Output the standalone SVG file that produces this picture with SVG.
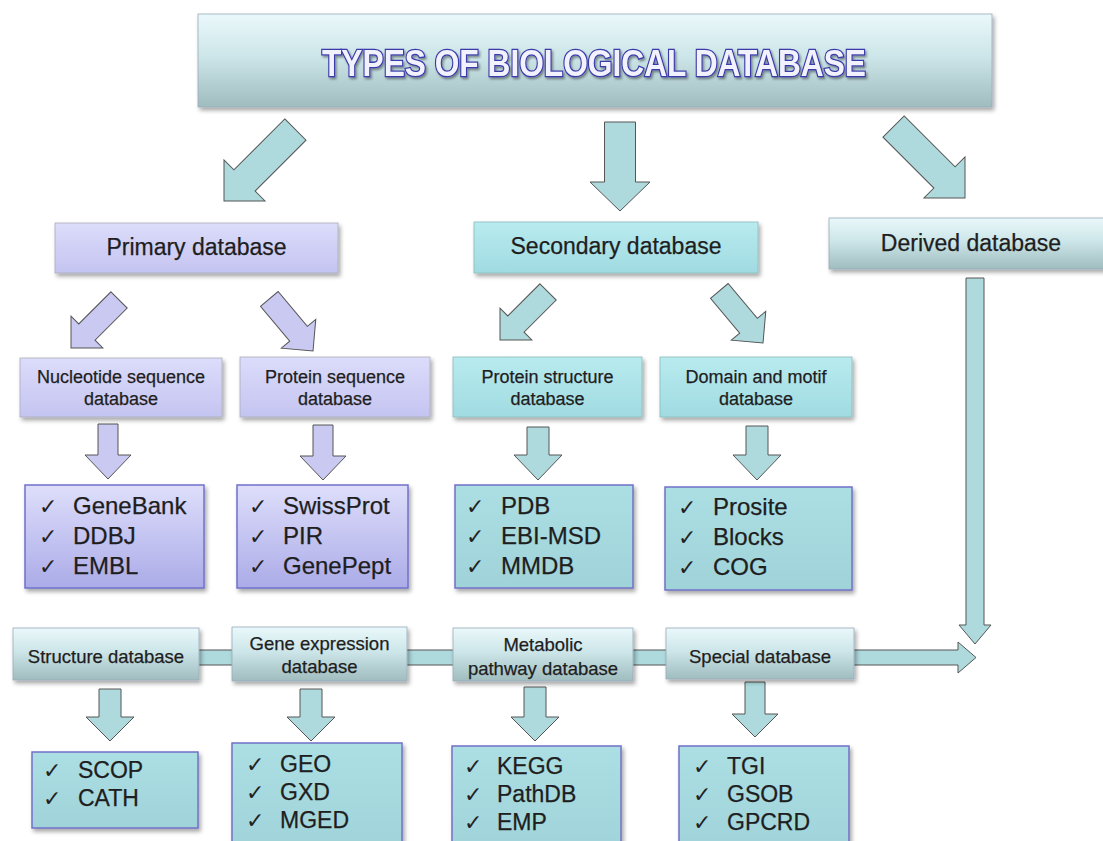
<svg xmlns="http://www.w3.org/2000/svg" width="1103" height="841" viewBox="0 0 1103 841">
<defs>
<linearGradient id="gGray" x1="0" y1="0" x2="0" y2="1">
<stop offset="0" stop-color="#eaf8fa"/><stop offset="0.45" stop-color="#cde6e9"/><stop offset="1" stop-color="#9fbcbe"/>
</linearGradient>
<linearGradient id="gLav" x1="0" y1="0" x2="0" y2="1">
<stop offset="0" stop-color="#dcdcfb"/><stop offset="1" stop-color="#c4c4f1"/>
</linearGradient>
<linearGradient id="gLavList" x1="0" y1="0" x2="0" y2="1">
<stop offset="0" stop-color="#dedefb"/><stop offset="1" stop-color="#ababe8"/>
</linearGradient>
<linearGradient id="gTeal" x1="0" y1="0" x2="0" y2="1">
<stop offset="0" stop-color="#b8ebef"/><stop offset="1" stop-color="#a0dbe1"/>
</linearGradient>
<linearGradient id="gTealList" x1="0" y1="0" x2="0" y2="1">
<stop offset="0" stop-color="#acdfe4"/><stop offset="1" stop-color="#9fd3d9"/>
</linearGradient>
<filter id="sh" x="-5%" y="-10%" width="115%" height="140%">
<feDropShadow dx="2" dy="3" stdDeviation="2" flood-color="#000" flood-opacity="0.35"/>
</filter>
<filter id="tsh" x="-5%" y="-20%" width="110%" height="150%">
<feDropShadow dx="1.5" dy="2" stdDeviation="1" flood-color="#000" flood-opacity="0.4"/>
</filter>
</defs>
<style>
.t{font-family:"Liberation Sans",Arial,sans-serif;fill:#1e1e1e;stroke:#1e1e1e;stroke-width:0.25}
.c{text-anchor:middle}
.l23{font-size:23px}
.l18{font-size:18px}
.l185{font-size:18.5px}
.it{font-size:24px}
.it2{font-size:23px}
.chk{font-family:"DejaVu Sans",sans-serif;font-size:22px;fill:#222}
.gray{fill:url(#gGray);stroke:#9ab;stroke-width:0.8;filter:url(#sh)}
.lav{fill:url(#gLav);stroke:#aab;stroke-width:0.8;filter:url(#sh)}
.lavl{fill:url(#gLavList);stroke:#7070cc;stroke-width:1.5;filter:url(#sh)}
.teal{fill:url(#gTeal);stroke:#8bb;stroke-width:0.8;filter:url(#sh)}
.teall{fill:url(#gTealList);stroke:#7070c8;stroke-width:1.5;filter:url(#sh)}
.ta{fill:#aedadd;stroke:#555;stroke-width:1}
.la{fill:#c9c9f2;stroke:#555;stroke-width:1}
.title{font-family:"Liberation Sans",Arial,sans-serif;font-weight:bold;font-size:36px;fill:#f2f2ff;stroke:#3a3aa8;stroke-width:2.6;paint-order:stroke;text-anchor:middle;filter:url(#tsh)}
</style>
<rect width="1103" height="841" fill="#ffffff"/>

<g id="connectors">
<path class="ta" d="M604.5,122 H635.5 V182 H650 L620,211 L590,182 H604.5 Z"/>
<path class="ta" transform="translate(224,201) rotate(45)" d="M-15,-101 H15 V-29 H29 L0,0 L-29,-29 H-15 Z"/>
<path class="ta" transform="translate(965,198) rotate(-45)" d="M-15,-101 H15 V-29 H29 L0,0 L-29,-29 H-15 Z"/>
<path class="la" transform="translate(71,348) rotate(45)" d="M-11.5,-68 H11.5 V-22.5 H22.5 L0,0 L-22.5,-22.5 H-11.5 Z"/>
<path class="la" transform="translate(313,351) rotate(-40)" d="M-11.5,-68 H11.5 V-22.5 H22.5 L0,0 L-22.5,-22.5 H-11.5 Z"/>
<path class="ta" transform="translate(500,340) rotate(45)" d="M-11.5,-68 H11.5 V-22.5 H22.5 L0,0 L-22.5,-22.5 H-11.5 Z"/>
<path class="ta" transform="translate(763,343) rotate(-40)" d="M-11.5,-68 H11.5 V-22.5 H22.5 L0,0 L-22.5,-22.5 H-11.5 Z"/>
<path class="la" transform="translate(108,479)" d="M-10,-55 H10 V-24 H23 L0,0 L-23,-24 H-10 Z"/>
<path class="la" transform="translate(323,480)" d="M-10,-55 H10 V-24 H23 L0,0 L-23,-24 H-10 Z"/>
<path class="ta" transform="translate(538,480)" d="M-11,-53 H11 V-25 H24 L0,0 L-24,-25 H-11 Z"/>
<path class="ta" transform="translate(757,480)" d="M-11,-54 H11 V-25 H24 L0,0 L-24,-25 H-11 Z"/>
<path class="ta" d="M966,278 H984 V625 H991 L975,644 L959,625 H966 Z"/>
<path class="ta" d="M195,650 H958 V642 L976,657.5 L958,673 V665 H195 Z"/>
<path class="ta" transform="translate(110,741)" d="M-11,-52 H11 V-24 H24 L0,0 L-24,-24 H-11 Z"/>
<path class="ta" transform="translate(311,741)" d="M-11,-52 H11 V-24 H24 L0,0 L-24,-24 H-11 Z"/>
<path class="ta" transform="translate(535,741)" d="M-11,-54 H11 V-24 H24 L0,0 L-24,-24 H-11 Z"/>
<path class="ta" transform="translate(755,737)" d="M-10,-55 H10 V-23 H23 L0,0 L-23,-23 H-10 Z"/>
</g>

<g id="title">
<rect class="gray" x="198" y="14" width="794" height="93"/>
<text class="title" x="594" y="76" textLength="544" lengthAdjust="spacingAndGlyphs">TYPES OF BIOLOGICAL DATABASE</text>
</g>

<g id="primary">
<rect class="lav" x="55" y="223" width="283" height="50"/>
<text class="t c l23" x="196.5" y="255">Primary database</text>
</g>
<g id="secondary">
<rect class="teal" x="474" y="222" width="284" height="51"/>
<text class="t c l23" x="616" y="254">Secondary database</text>
</g>
<g id="derived">
<rect class="gray" x="829" y="218" width="285" height="51"/>
<text class="t c l23" x="971" y="251">Derived database</text>
</g>

<g id="nucleotide">
<rect class="lav" x="20" y="358" width="202" height="59"/>
<text class="t c l18" x="121" y="383">Nucleotide sequence</text>
<text class="t c l18" x="121" y="405">database</text>
</g>
<g id="protein-seq">
<rect class="lav" x="240" y="357" width="190" height="60"/>
<text class="t c l18" x="335" y="383">Protein sequence</text>
<text class="t c l18" x="335" y="405">database</text>
</g>
<g id="protein-struct">
<rect class="teal" x="453" y="357" width="189" height="60"/>
<text class="t c l18" x="547.5" y="383">Protein structure</text>
<text class="t c l18" x="547.5" y="405">database</text>
</g>
<g id="domain">
<rect class="teal" x="660" y="357" width="192" height="60"/>
<text class="t c l18" x="756" y="383">Domain and motif</text>
<text class="t c l18" x="756" y="405">database</text>
</g>

<g id="list-nucleotide">
<rect class="lavl" x="25" y="485" width="179" height="103"/>
<text class="chk" x="39" y="514">✓</text><text class="t it" x="73" y="514">GeneBank</text>
<text class="chk" x="39" y="544">✓</text><text class="t it" x="73" y="544">DDBJ</text>
<text class="chk" x="39" y="574">✓</text><text class="t it" x="73" y="574">EMBL</text>
</g>
<g id="list-protein">
<rect class="lavl" x="237" y="485" width="171" height="103"/>
<text class="chk" x="249" y="514">✓</text><text class="t it" x="283" y="514">SwissProt</text>
<text class="chk" x="249" y="544">✓</text><text class="t it" x="283" y="544">PIR</text>
<text class="chk" x="249" y="574">✓</text><text class="t it" x="283" y="574">GenePept</text>
</g>
<g id="list-structure">
<rect class="teall" x="455" y="485" width="178" height="103"/>
<text class="chk" x="466" y="514">✓</text><text class="t it" x="501" y="514">PDB</text>
<text class="chk" x="466" y="544">✓</text><text class="t it" x="501" y="544">EBI-MSD</text>
<text class="chk" x="466" y="574">✓</text><text class="t it" x="501" y="574">MMDB</text>
</g>
<g id="list-domain">
<rect class="teall" x="665" y="487" width="187" height="103"/>
<text class="chk" x="678" y="515">✓</text><text class="t it" x="713" y="515">Prosite</text>
<text class="chk" x="678" y="545">✓</text><text class="t it" x="713" y="545">Blocks</text>
<text class="chk" x="678" y="575">✓</text><text class="t it" x="713" y="575">COG</text>
</g>

<g id="structure-db">
<rect class="gray" x="13" y="628" width="186" height="52"/>
<text class="t c l185" x="106" y="663">Structure database</text>
</g>
<g id="gene-expression">
<rect class="gray" x="232" y="627" width="175" height="54"/>
<text class="t c l185" x="319.5" y="650">Gene expression</text>
<text class="t c l185" x="319.5" y="673">database</text>
</g>
<g id="metabolic">
<rect class="gray" x="453" y="628" width="180" height="53"/>
<text class="t c l185" x="543" y="651">Metabolic</text>
<text class="t c l185" x="543" y="675">pathway database</text>
</g>
<g id="special">
<rect class="gray" x="666" y="628" width="188" height="51"/>
<text class="t c l185" x="760" y="663">Special database</text>
</g>

<g id="list-structure-db">
<rect class="teall" x="32" y="752" width="166" height="76"/>
<text class="chk" x="43" y="778">✓</text><text class="t it2" x="78" y="778">SCOP</text>
<text class="chk" x="43" y="806">✓</text><text class="t it2" x="78" y="806">CATH</text>
</g>
<g id="list-gene">
<rect class="teall" x="232" y="743" width="170" height="110"/>
<text class="chk" x="246" y="772">✓</text><text class="t it2" x="280" y="772">GEO</text>
<text class="chk" x="246" y="800">✓</text><text class="t it2" x="280" y="800">GXD</text>
<text class="chk" x="246" y="828">✓</text><text class="t it2" x="280" y="828">MGED</text>
</g>
<g id="list-metabolic">
<rect class="teall" x="452" y="746" width="169" height="110"/>
<text class="chk" x="464" y="774">✓</text><text class="t it2" x="497" y="774">KEGG</text>
<text class="chk" x="464" y="802">✓</text><text class="t it2" x="497" y="802">PathDB</text>
<text class="chk" x="464" y="830">✓</text><text class="t it2" x="497" y="830">EMP</text>
</g>
<g id="list-special">
<rect class="teall" x="679" y="746" width="170" height="110"/>
<text class="chk" x="693" y="774">✓</text><text class="t it2" x="727" y="774">TGI</text>
<text class="chk" x="693" y="802">✓</text><text class="t it2" x="727" y="802">GSOB</text>
<text class="chk" x="693" y="830">✓</text><text class="t it2" x="727" y="830">GPCRD</text>
</g>
</svg>
